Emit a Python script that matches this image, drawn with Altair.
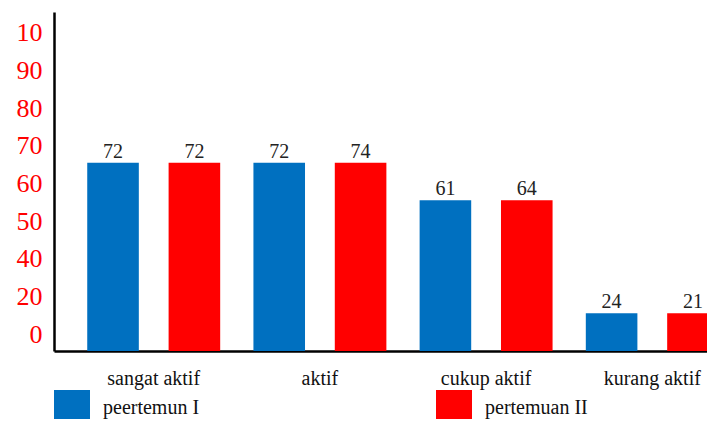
import altair as alt
import pandas as pd

categories = ["sangat aktif", "aktif", "cukup aktif", "kurang aktif"]
series = ["peertemun I", "pertemuan II"]
# bar heights (in axis-step units)
heights_I = [5, 5, 4, 1]
heights_II = [5, 5, 4, 1]
# value labels printed above bars
labels_I = ["72", "72", "61", "24"]
labels_II = ["72", "74", "64", "21"]
# y tick labels as printed
ytick_labels = ["0", "20", "40", "50", "60", "70", "80", "90", "10"]
ytick_positions = [i + 0.45 for i in range(len(ytick_labels))]
colors = ["#0070C0", "#FF0000"]

rows = []
for c, hI, hII, lI, lII in zip(categories, heights_I, heights_II, labels_I, labels_II):
    rows.append({"cat": c, "ser": series[0], "h": hI, "lab": lI})
    rows.append({"cat": c, "ser": series[1], "h": hII, "lab": lII})
df = pd.DataFrame(rows)

FONT = "Liberation Serif"
label_arr = "[" + ",".join("'%s'" % s for s in ytick_labels) + "]"

x_enc = alt.X("cat:N", sort=categories, title=None,
              scale=alt.Scale(range=[0, 698], paddingInner=0.2, paddingOuter=0.2),
              axis=alt.Axis(labelAngle=0, ticks=False, tickSize=0, domainColor="black",
                            domainWidth=2.5, labelFont=FONT, labelFontSize=20,
                            labelColor="#111", labelBaseline="alphabetic",
                            labelPadding=33, grid=False))
xoff = alt.XOffset("ser:N", sort=series,
                   scale=alt.Scale(paddingInner=0.366, paddingOuter=0))
y_enc = alt.Y("h:Q", title=None,
              scale=alt.Scale(domain=[0, 9], nice=False, zero=True),
              axis=alt.Axis(values=ytick_positions, ticks=False, tickSize=0,
                            labelExpr=label_arr + "[round(datum.value - 0.45)]",
                            labelFont=FONT, labelFontSize=26, labelColor="#FF0000",
                            labelPadding=12, domainColor="black", domainWidth=2.5,
                            grid=False, labelBaseline="middle"))

bars = alt.Chart(df).mark_bar().encode(
    x=x_enc, xOffset=xoff, y=y_enc,
    color=alt.Color("ser:N", sort=series, title=None,
                    scale=alt.Scale(domain=series, range=colors),
                    legend=alt.Legend(orient="none", legendX=0, legendY=378,
                                      direction="horizontal", symbolType="square",
                                      symbolSize=1296, symbolStrokeWidth=0,
                                      labelFont=FONT, labelFontSize=20,
                                      labelColor="#111", labelOffset=13,
                                      columnPadding=236, padding=0)),
)

texts = alt.Chart(df).mark_text(baseline="alphabetic", dy=-5, font=FONT,
                                fontSize=20, color="#222").encode(
    x=alt.X("cat:N", sort=categories), xOffset=alt.XOffset("ser:N", sort=series),
    y="h:Q", text="lab:N")

chart = (bars + texts).properties(
    width=653, height=339,
    autosize=alt.AutoSizeParams(type="none"),
    padding={"left": 46, "top": 4, "right": 0, "bottom": 68},
).configure_view(stroke=None)

chart.save("out.html", embed_options={"renderer": "svg", "actions": False})
